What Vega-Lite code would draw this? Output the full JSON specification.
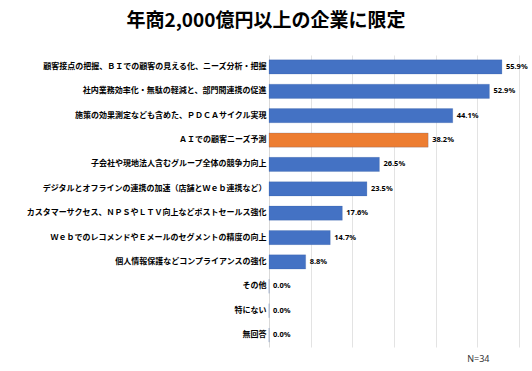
{
  "$schema": "https://vega.github.io/schema/vega-lite/v6.json",
  "width": 250,
  "height": 292,
  "autosize": {"type": "none"},
  "padding": {"left": 269, "top": 55, "right": 13, "bottom": 24},
  "background": "white",
  "title": {
    "text": "年商2,000億円以上の企業に限定",
    "font": "Noto Sans CJK JP",
    "fontSize": 19,
    "fontWeight": "bold",
    "color": "#000000",
    "anchor": "middle",
    "dx": -128,
    "offset": 24
  },
  "data": {
    "values": [
      {"item": "顧客接点の把握、ＢＩでの顧客の見える化、ニーズ分析・把握", "v": 0.559, "hl": "n"},
      {"item": "社内業務効率化・無駄の軽減と、部門間連携の促進", "v": 0.529, "hl": "n"},
      {"item": "施策の効果測定なども含めた、ＰＤＣＡサイクル実現", "v": 0.441, "hl": "n"},
      {"item": "ＡＩでの顧客ニーズ予測", "v": 0.382, "hl": "y"},
      {"item": "子会社や現地法人含むグループ全体の競争力向上", "v": 0.265, "hl": "n"},
      {"item": "デジタルとオフラインの連携の加速（店舗とＷｅｂ連携など）", "v": 0.235, "hl": "n"},
      {"item": "カスタマーサクセス、ＮＰＳやＬＴＶ向上などポストセールス強化", "v": 0.176, "hl": "n"},
      {"item": "ＷｅｂでのレコメンドやＥメールのセグメントの精度の向上", "v": 0.147, "hl": "n"},
      {"item": "個人情報保護などコンプライアンスの強化", "v": 0.088, "hl": "n"},
      {"item": "その他", "v": 0.0, "hl": "n"},
      {"item": "特にない", "v": 0.0, "hl": "n"},
      {"item": "無回答", "v": 0.0, "hl": "n"}
    ]
  },
  "encoding": {
    "y": {
      "field": "item",
      "type": "nominal",
      "sort": null,
      "scale": {"paddingInner": 0.42, "paddingOuter": 0.2},
      "axis": {
        "title": null,
        "ticks": false,
        "domain": true,
        "domainColor": "#d9d9d9",
        "labelFont": "Noto Sans CJK JP",
        "labelFontSize": 8,
        "labelFontWeight": "bold",
        "labelColor": "#000000",
        "labelPadding": 3,
        "labelLimit": 300
      }
    },
    "x": {
      "field": "v",
      "type": "quantitative",
      "scale": {"domain": [0, 0.6]},
      "axis": {
        "title": "N=34",
        "titleFont": "Noto Sans",
        "titleFontSize": 9,
        "titleFontWeight": "normal",
        "titleColor": "#333333",
        "titleAnchor": "end",
        "titleX": 220,
        "titleY": 7,
        "labels": false,
        "ticks": false,
        "domain": false,
        "grid": true,
        "gridColor": "#e3e3e3",
        "values": [0.1, 0.2, 0.3, 0.4, 0.5, 0.6]
      }
    }
  },
  "layer": [
    {
      "mark": {"type": "bar", "stroke": "#2f5597", "strokeWidth": 0.5, "strokeOpacity": 0.4},
      "encoding": {
        "color": {
          "field": "hl",
          "type": "nominal",
          "scale": {"domain": ["n", "y"], "range": ["#4472C4", "#ED7D31"]},
          "legend": null
        }
      }
    },
    {
      "mark": {"type": "text", "align": "left", "dx": 4, "font": "Noto Sans", "fontSize": 7.5, "fontWeight": "bold", "color": "#000000"},
      "encoding": {
        "text": {"field": "v", "type": "quantitative", "format": ".1%"}
      }
    }
  ],
  "config": {"view": {"stroke": null}}
}
